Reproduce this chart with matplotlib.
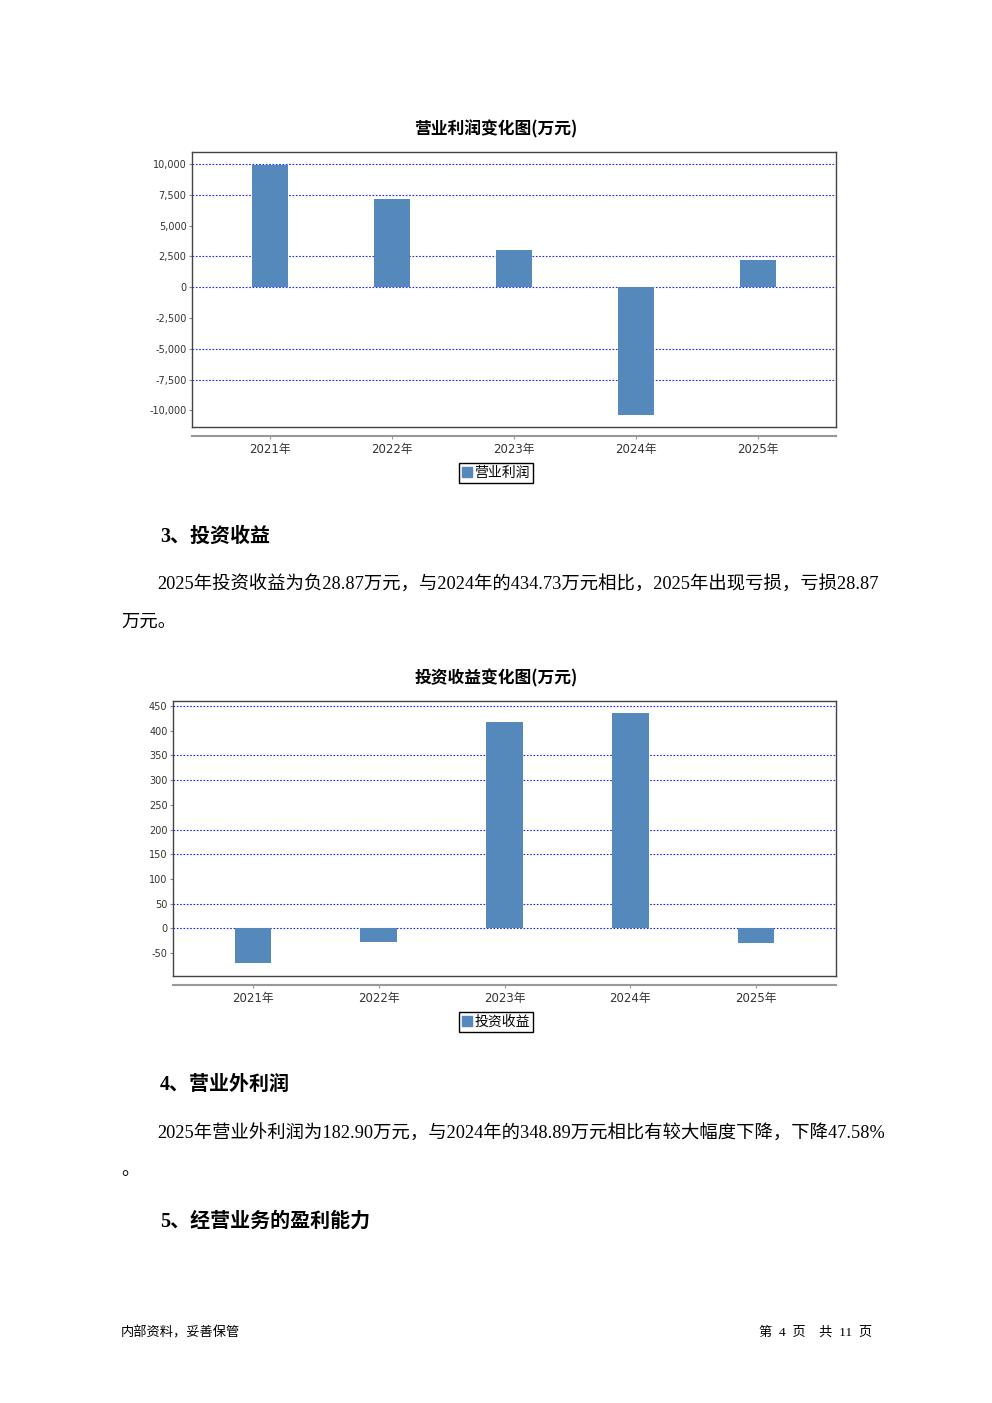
import matplotlib
matplotlib.use("Agg")
import matplotlib.pyplot as plt
from matplotlib.patches import Patch

plt.rcParams['font.family'] = ['DejaVu Sans', 'Noto Sans CJK SC']

years = ['2021年', '2022年', '2023年', '2024年', '2025年']

op_profit = [9950, 7150, 3000, -10330, 2220]
op_ticks = [-10000, -7500, -5000, -2500, 0, 2500, 5000, 7500, 10000]
op_grid = [10000, 7500, 2500, 0, -5000, -7500]

inv_income = [-71, -28.5, 417, 434.73, -28.87]
inv_ticks = [-50, 0, 50, 100, 150, 200, 250, 300, 350, 400, 450]
inv_grid = [450, 350, 300, 200, 150, 50, 0]

W, H = 992, 1403
BAR = '#5689bb'
BODY_FONT = ['Liberation Serif', 'Noto Sans CJK SC']
CJK = ['Noto Sans CJK SC', 'DejaVu Sans']

fig = plt.figure(figsize=(W / 100, H / 100), dpi=100)


def fy(y):
    return 1 - y / H


def draw_chart(title, label, values, ticks, grid, left, right, top, bottom, axis_y, title_y, legend_y, margin):
    ax = fig.add_axes([left / W, fy(bottom), (right - left) / W, (bottom - top) / H])
    x = list(range(len(values)))
    ax.bar(x, values, width=0.29, color=BAR, zorder=3)
    lo, hi = min(values), max(values)
    r = hi - lo
    ax.set_ylim(lo - 0.05 * r, hi + 0.05 * r)
    ax.set_xlim(-margin, len(values) - 1 + margin)
    for g in grid:
        ax.axhline(g, color='#2222ff', lw=0.8, ls=(0, (1.5, 1.5)), zorder=2)
    ax.set_yticks(ticks)
    ax.set_yticklabels([f'{t:,}' for t in ticks])
    ax.tick_params(axis='y', labelsize=7, length=2, color='#888888', labelcolor='#333333', pad=2)
    ax.set_xticks([])
    for s in ax.spines.values():
        s.set_color('#444444')
        s.set_linewidth(1)

    sec = ax.secondary_xaxis(-(axis_y - bottom) / (bottom - top))
    sec.set_xticks(x)
    sec.set_xticklabels(years)
    sec.tick_params(length=2, color='#999999', labelsize=8.5, labelcolor='#333333', pad=3)
    sec.spines['bottom'].set_color('#999999')
    sec.spines['bottom'].set_linewidth(1.5)

    fig.text(496 / W, fy(title_y), title, ha='center', va='center',
             fontsize=12.1, fontweight='bold', family=CJK)
    fig.legend(handles=[Patch(color=BAR, label=label)], loc='center',
               bbox_to_anchor=(496 / W, fy(legend_y)), prop={'family': CJK, 'size': 10},
               frameon=True, fancybox=False, edgecolor='black', framealpha=1,
               handlelength=0.7, handleheight=0.7, handletextpad=0.2, borderpad=0.25,
               borderaxespad=0)


draw_chart('营业利润变化图(万元)', '营业利润', op_profit, op_ticks, op_grid,
           192, 836, 152, 427, 436, 129, 473, 0.639)
draw_chart('投资收益变化图(万元)', '投资收益', inv_income, inv_ticks, inv_grid,
           173, 836, 701, 976, 985, 678, 1022, 0.635)

# page text
def head(x, y, s):
    fig.text(x / W, fy(y), s, ha='left', va='center', fontsize=14.4, fontweight='bold', family=BODY_FONT)


def body(x, y, s, ha='left'):
    fig.text(x / W, fy(y), s, ha=ha, va='center', fontsize=13.2, family=BODY_FONT)


head(160, 537, '3、投资收益')
body(157, 585, '2025年投资收益为负28.87万元，与2024年的434.73万元相比，2025年出现亏损，亏损28.87')
body(121, 622, '万元。')
head(160, 1085, '4、营业外利润')
body(157, 1134, '2025年营业外利润为182.90万元，与2024年的348.89万元相比有较大幅度下降，下降47.58%')
body(121, 1171, '。')
head(160, 1222, '5、经营业务的盈利能力')

fig.text(121 / W, fy(1333), '内部资料，妥善保管', ha='left', va='center', fontsize=9.5, family=BODY_FONT)
fig.text(872 / W, fy(1333), '第  4  页    共  11  页', ha='right', va='center', fontsize=9.5, family=BODY_FONT)

fig.savefig('out.png', dpi=100)
